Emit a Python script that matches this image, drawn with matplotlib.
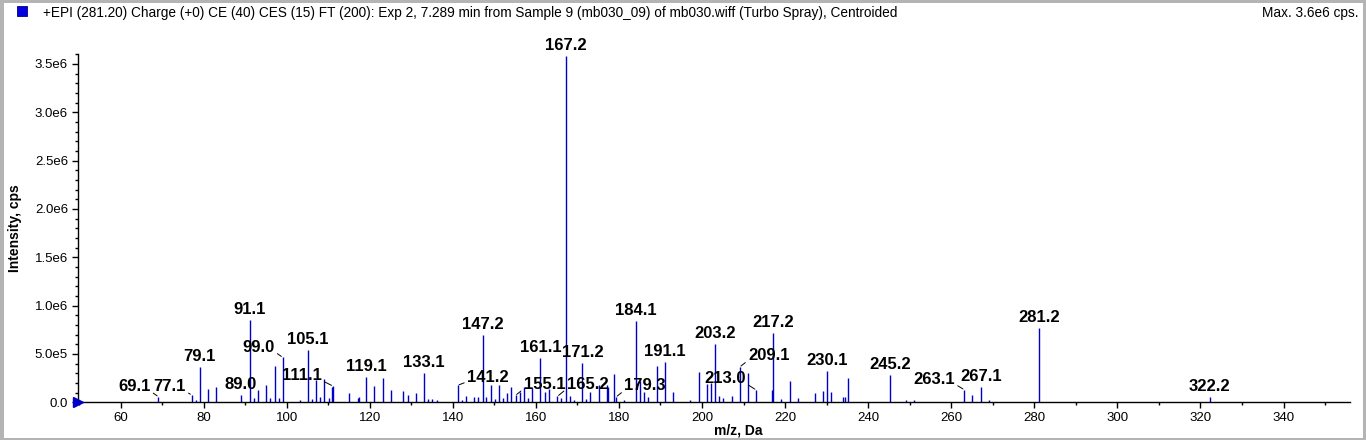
import matplotlib
matplotlib.use("Agg")
import matplotlib.pyplot as plt
from matplotlib.patches import Rectangle
from matplotlib.ticker import MultipleLocator, FixedLocator

plt.rcParams["font.family"] = ["Liberation Sans", "DejaVu Sans"]

# centroided peaks: m/z and intensity (cps)
mz = [69.1, 77.1, 78.2, 79.1, 81.1, 83.1, 89.0, 91.1, 92.1, 93.1, 95.1, 96.1,
      97.1, 98.1, 99.0, 103.1, 105.1, 106.1, 107.1, 108.1, 109.1, 110.1, 110.9,
      111.1, 115.1, 117.1, 117.3, 119.1, 121.1, 123.1, 125.1, 128.1, 129.1,
      131.1, 133.1, 134.1, 135.1, 136.1, 141.2, 142.1, 143.1, 145.1, 146.1,
      147.2, 148.1, 149.1, 150.1, 151.1, 152.1, 153.1, 154.1, 155.1, 156.1,
      157.1, 158.1, 159.1, 161.1, 162.1, 163.1, 165.2, 166.1, 167.2, 168.1,
      169.1, 171.2, 172.1, 173.1, 175.1, 177.1, 177.3, 178.9, 179.3, 181.1,
      184.1, 185.1, 186.1, 187.1, 189.1, 191.1, 193.1, 197.1, 199.2, 201.1,
      202.1, 203.2, 204.1, 205.1, 207.1, 209.1, 211.1, 213.0, 216.9, 217.2,
      219.1, 221.1, 223.1, 227.1, 229.1, 230.1, 231.1, 233.9, 234.5, 235.1,
      245.2, 249.1, 251.1, 263.1, 265.1, 267.1, 269.1, 281.2, 322.2]
intensity = [5.8e4, 7.6e4, 2.2e4, 3.69e5, 1.34e5, 1.59e5, 7.9e4, 8.52e5, 4.0e4,
             1.31e5, 1.79e5, 4.8e4, 3.79e5, 4.5e4, 4.66e5, 2.5e4, 5.41e5, 3.5e4,
             2.31e5, 5.0e4, 2.45e5, 4.0e4, 1.6e5, 1.69e5, 9.7e4, 4.5e4, 5.0e4,
             2.62e5, 1.72e5, 2.55e5, 1.31e5, 1.17e5, 7.6e4, 9.7e4, 3.07e5,
             3.5e4, 3.5e4, 2.0e4, 1.76e5, 2.4e4, 6.2e4, 5.9e4, 5.0e4, 6.97e5,
             5.0e4, 1.76e5, 3.0e4, 1.76e5, 4.0e4, 9.3e4, 1.55e5, 7.2e4, 1.1e5,
             1.55e5, 4.0e4, 1.45e5, 4.62e5, 1.03e5, 1.34e5, 6.2e4, 4.0e4, 3.58e6,
             6.0e4, 2.0e4, 4.1e5, 3.0e4, 1.1e5, 1.83e5, 1.79e5, 1.6e5, 2.93e5,
             5.5e4, 2.4e4, 8.41e5, 2.2e5, 1.1e5, 5.0e4, 3.79e5, 4.2e5, 1.1e5,
             2.4e4, 3.17e5, 1.86e5, 1.97e5, 6.07e5, 6.2e4, 4.0e4, 6.5e4, 3.66e5,
             3.03e5, 1.28e5, 1.28e5, 7.2e5, 3.8e4, 2.2e5, 4.0e4, 9.7e4, 1.2e5,
             3.24e5, 1.03e5, 5.9e4, 5.0e4, 2.52e5, 2.83e5, 2.4e4, 2.0e4, 1.31e5,
             7.6e4, 1.59e5, 2.0e4, 7.69e5, 5.9e4]

# labelled peaks
label_mz = [69.1, 77.1, 79.1, 89.0, 91.1, 99.0, 105.1, 111.1, 119.1, 133.1,
            141.2, 147.2, 155.1, 161.1, 165.2, 167.2, 171.2, 179.3, 184.1,
            191.1, 203.2, 209.1, 213.0, 217.2, 230.1, 245.2, 263.1, 267.1,
            281.2, 322.2]

# label offsets in pixels (dx, dy) for labels pulled aside with a leader line
leader_offsets = {
    69.1: (-24, 10), 77.1: (-22, 8), 99.0: (-24, 10), 111.1: (-31, 10),
    141.2: (30, 8), 155.1: (29, 11), 165.2: (30, 12), 179.3: (29, 11),
    209.1: (29, 11), 213.0: (-31, 11), 263.1: (-30, 10),
}

x_ticks = [60, 80, 100, 120, 140, 160, 180, 200, 220, 240, 260, 280, 300, 320, 340]
y_ticks = [0, 0.5e6, 1.0e6, 1.5e6, 2.0e6, 2.5e6, 3.0e6, 3.5e6]
y_tick_labels = ["0.0", "5.0e5", "1.0e6", "1.5e6", "2.0e6", "2.5e6", "3.0e6", "3.5e6"]

title = ("+EPI (281.20) Charge (+0) CE (40) CES (15) FT (200): Exp 2, 7.289 min "
         "from Sample 9 (mb030_09) of mb030.wiff (Turbo Spray), Centroided")
max_text = "Max. 3.6e6 cps."

peak_color = "#0000c8"

fig = plt.figure(figsize=(13.66, 4.40), dpi=100, facecolor="white")
ax = fig.add_axes([0.0569, 0.0857, 0.9314, 0.7909])

ax.vlines(mz, 0, intensity, color=peak_color, lw=1.0)
ax.set_xlim(49.7, 356)
ax.set_ylim(0, 3.6e6)

# precursor marker at the origin
ax.plot([49.7], [0], marker=">", color=peak_color, ms=7, clip_on=False, zorder=5)

lookup = dict(zip(mz, intensity))
for m in label_mz:
    h = lookup[m]
    txt = f"{m:.1f}"
    if m in leader_offsets:
        dx, dy = leader_offsets[m]
        rel = (1, 0.2) if dx < 0 else (0, 0.2)
        ax.annotate(txt, xy=(m, h), xytext=(dx, dy), textcoords="offset pixels",
                    ha="center", va="center", fontsize=12, fontweight="bold",
                    arrowprops=dict(arrowstyle="-", color="black", lw=0.7,
                                    shrinkA=0, shrinkB=1, relpos=rel))
    else:
        ax.annotate(txt, xy=(m, h), xytext=(0, 3), textcoords="offset pixels",
                    ha="center", va="bottom", fontsize=12, fontweight="bold")

for side in ["top", "right"]:
    ax.spines[side].set_visible(False)
ax.spines["left"].set_linewidth(1.0)
ax.spines["bottom"].set_linewidth(1.0)

ax.xaxis.set_major_locator(FixedLocator(x_ticks))
ax.xaxis.set_minor_locator(MultipleLocator(10))
ax.yaxis.set_major_locator(FixedLocator(y_ticks))
ax.yaxis.set_minor_locator(MultipleLocator(1e5))
ax.set_yticklabels(y_tick_labels)
ax.tick_params(axis="both", which="major", length=4, width=1, labelsize=9.5, pad=3)
ax.tick_params(axis="both", which="minor", length=2, width=1)

fig.text(738 / 1366, 1 - 430 / 440, "m/z, Da", ha="center", va="center",
         fontsize=10, fontweight="bold")
fig.text(15 / 1366, 1 - 228 / 440, "Intensity, cps", ha="center", va="center",
         rotation=90, fontsize=10, fontweight="bold")

# header line with legend square
fig.patches.append(Rectangle((17 / 1366, 1 - 16 / 440), 10 / 1366, 10 / 440,
                             transform=fig.transFigure, facecolor="#0000e0",
                             edgecolor="#000080", lw=0.6))
fig.text(43 / 1366, 1 - 13 / 440, title, ha="left", va="center", fontsize=9.8)
fig.text(1358 / 1366, 1 - 13 / 440, max_text, ha="right", va="center", fontsize=9.8)

# grey window frame
frame = "#b4b4b4"
fig.patches.append(Rectangle((0, 0), 4 / 1366, 1, transform=fig.transFigure,
                             facecolor=frame, edgecolor="none"))
fig.patches.append(Rectangle((1363 / 1366, 0), 3 / 1366, 1, transform=fig.transFigure,
                             facecolor=frame, edgecolor="none"))
fig.patches.append(Rectangle((0, 1 - 3 / 440), 1, 3 / 440, transform=fig.transFigure,
                             facecolor=frame, edgecolor="none"))
fig.patches.append(Rectangle((0, 0), 1, 2 / 440, transform=fig.transFigure,
                             facecolor=frame, edgecolor="none"))

fig.savefig("out.png", dpi=100, facecolor="white")
